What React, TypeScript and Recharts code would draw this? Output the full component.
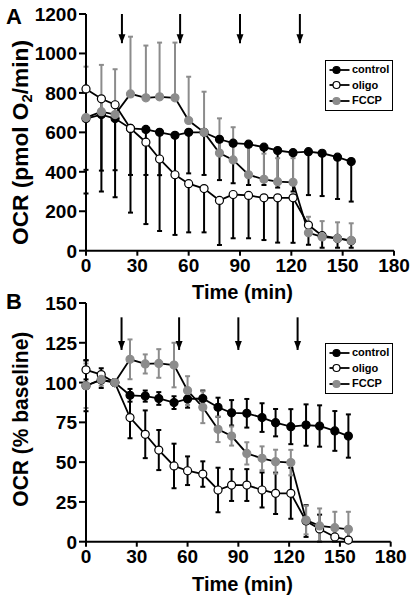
import React from 'react';
import {
  LineChart,
  Line,
  XAxis,
  YAxis,
  ErrorBar,
  Legend,
  Label,
  ReferenceLine,
  ReferenceDot,
} from 'recharts';

const times = [0, 9, 17, 26, 35, 43, 52, 60, 69, 78, 86, 95, 104, 112, 121, 130, 138, 147, 155];
const timeTicks = [0, 30, 60, 90, 120, 150, 180];
const injectionTimes = [21, 55, 90, 125];

// panel A: OCR in pmol O2/min (error bars drawn one-sided, as in the figure)
const ocrTicks = [0, 200, 400, 600, 800, 1000, 1200];
const controlA = [670, 690, 670, 620, 615, 600, 585, 600, 600, 565, 545, 540, 525, 508, 497, 502, 494, 474, 452];
const controlAErr = [380, 284, 262, 236, 231, 217, 200, 208, 216, 207, 203, 207, 192, 188, 197, 220, 217, 212, 203];
const oligoA = [820, 770, 740, 620, 550, 465, 385, 340, 315, 255, 285, 280, 268, 268, 268, 130, 76, 62, 50];
const oligoAErr = [410, 470, 469, 427, 415, 365, 305, 247, 222, 226, 222, 217, 214, 227, 228, 100, 61, 47, 35];
const fccpA = [675, 705, 690, 795, 775, 780, 775, 660, 600, 495, 460, 385, 362, 350, 347, 91, 70, 62, 52];
const fccpAErr = [258, 237, 230, 290, 265, 275, 280, 222, 206, 176, 166, 142, 130, 119, 122, 81, 80, 82, 87];

// panel B: OCR as % of baseline
const pctTicks = [0, 25, 50, 75, 100, 125, 150];
const controlB = [98, 101.6, 100, 92, 91.5, 90, 87.4, 89.7, 90, 84.5, 81, 80.7, 78, 74.8, 72.3, 73.3, 72.7, 69.6, 66.4];
const controlBErr = [16, 5, 0, 4, 3.5, 4, 4, 5.5, 5, 6, 8, 9, 9, 8.6, 11, 13, 13, 12.5, 13.6];
const oligoB = [108, 105, 100, 78, 67.5, 57.6, 47.6, 44.6, 42.5, 32.5, 35.6, 35.6, 32.5, 30.4, 30.4, 13, 8, 3, 1];
const oligoBErr = [6, 4, 0, 13, 15, 12.6, 14, 9, 8, 14, 10, 10, 11, 13, 16, 10, 9, 7, 6];
const fccpB = [98, 102, 100, 114.6, 111.7, 112, 111, 95, 84.5, 70.6, 66.4, 55.5, 52.4, 50.3, 49.7, 13.6, 9.9, 8.8, 7.8];
const fccpBErr = [14, 4, 0, 12.5, 6, 9, 14, 9, 10, 8, 6, 7, 7.5, 7.5, 8, 9, 11, 10, 11];

const FONT = '"Liberation Sans", Arial, Helvetica, sans-serif';
const GREY = '#8c8c8c';

const seriesStyle = [
  { key: 'control', label: 'control', fill: '#000', stroke: '#000', bar: '#000' },
  { key: 'oligo', label: 'oligo', fill: '#fff', stroke: '#000', bar: '#000' },
  { key: 'fccp', label: 'FCCP', fill: GREY, stroke: GREY, bar: GREY },
];

const rowsA = times.map((t, i) => ({
  t,
  control: controlA[i],
  controlErr: [controlAErr[i], 0],
  oligo: oligoA[i],
  oligoErr: [oligoAErr[i], 0],
  fccp: fccpA[i],
  fccpErr: [0, fccpAErr[i]],
}));

// symmetric SD, clipped at the x axis
const sd = (v: number, e: number) => [Math.min(e, v), e];
const rowsB = times.map((t, i) => ({
  t,
  control: controlB[i],
  controlErr: sd(controlB[i], controlBErr[i]),
  oligo: oligoB[i],
  oligoErr: sd(oligoB[i], oligoBErr[i]),
  fccp: fccpB[i],
  fccpErr: sd(fccpB[i], fccpBErr[i]),
}));

const XTick = ({ x, y, payload }: any) => (
  <text x={x} y={y + 15.5} textAnchor="middle" fontFamily={FONT} fontWeight={700} fontSize={19} fill="#000">
    {payload.value}
  </text>
);

const YTick = ({ x, y, payload }: any) => (
  <text x={x} y={y + 7} textAnchor="end" fontFamily={FONT} fontWeight={700} fontSize={19} fill="#000">
    {payload.value}
  </text>
);

const LegendBox = () => (
  <div
    style={{
      border: '1.5px solid #000',
      background: '#fff',
      width: 66,
      padding: '1px 0',
      fontFamily: FONT,
      fontWeight: 700,
      fontSize: 11,
      lineHeight: '15px',
    }}
  >
    {seriesStyle.map(s => (
      <div key={s.key} style={{ display: 'flex', alignItems: 'center', height: 15.5 }}>
        <svg width={26} height={10} style={{ display: 'block' }}>
          <line x1={3.5} x2={23.5} y1={5} y2={5} stroke="#000" strokeWidth={1.8} />
          <circle cx={10.5} cy={5} r={3.5} fill={s.fill} stroke={s.stroke} strokeWidth={1.2} />
        </svg>
        <span>{s.label}</span>
      </div>
    ))}
  </div>
);

const arrowHead = (p: any) => (
  <path d={`M${p.cx - 3.5},${p.cy - 9}L${p.cx + 3.5},${p.cy - 9}L${p.cx},${p.cy}Z`} fill="#000" />
);

type PanelProps = {
  top: number;
  height: number;
  margin: { top: number; right: number; left: number; bottom: number };
  xAxisHeight: number;
  rows: any[];
  yMax: number;
  yTicks: number[];
  arrowTop: number;
  arrowTip: number;
  letter: string;
  letterY: number;
  yTitle: React.ReactNode;
  yTitleLength: number;
  yTitleCy: number;
  xTitleY: number;
  legendTop: number;
};

function Panel(p: PanelProps) {
  return (
    <div style={{ position: 'absolute', left: 0, top: p.top }}>
      <LineChart width={414} height={p.height} data={p.rows} margin={p.margin}>
        <XAxis
          dataKey="t"
          type="number"
          domain={[0, 180]}
          ticks={timeTicks}
          interval={0}
          height={p.xAxisHeight}
          axisLine={{ stroke: '#000', strokeWidth: 2 }}
          tickLine={{ stroke: '#000', strokeWidth: 2 }}
          tickSize={5}
          tickMargin={1}
          tick={XTick}
        >
          <Label
            content={() => (
              <text
                x={242.5}
                y={p.xTitleY}
                textAnchor="middle"
                fontFamily={FONT}
                fontWeight={700}
                fontSize={20}
                fill="#000"
                textLength={101}
                lengthAdjust="spacingAndGlyphs"
              >
                Time (min)
              </text>
            )}
          />
        </XAxis>
        <YAxis
          type="number"
          domain={[0, p.yMax]}
          ticks={p.yTicks}
          interval={0}
          width={86}
          axisLine={{ stroke: '#000', strokeWidth: 2 }}
          tickLine={{ stroke: '#000', strokeWidth: 2 }}
          tickSize={7}
          tickMargin={2}
          tick={YTick}
        >
          <Label
            content={() => (
              <g fontFamily={FONT} fontWeight={700} fill="#000">
                <text x={6} y={p.letterY} fontSize={22}>
                  {p.letter}
                </text>
                <text
                  transform={`translate(28, ${p.yTitleCy}) rotate(-90)`}
                  textAnchor="middle"
                  fontSize={21.5}
                  textLength={p.yTitleLength}
                  lengthAdjust="spacingAndGlyphs"
                >
                  {p.yTitle}
                </text>
              </g>
            )}
          />
        </YAxis>

        {injectionTimes.map(t => (
          <ReferenceLine
            key={`line-${t}`}
            segment={[
              { x: t, y: p.arrowTop },
              { x: t, y: p.arrowTip },
            ]}
            stroke="#000"
            strokeWidth={2}
          />
        ))}
        {injectionTimes.map(t => (
          <ReferenceDot key={`head-${t}`} x={t} y={p.arrowTip} r={4} shape={arrowHead} />
        ))}

        {seriesStyle.map(s => (
          <Line
            key={s.key}
            dataKey={s.key}
            name={s.label}
            type="linear"
            stroke="#000"
            strokeWidth={1.8}
            dot={{ r: 4, fill: s.fill, stroke: s.stroke, strokeWidth: 1.2 }}
            activeDot={false}
            isAnimationActive={false}
          >
            <ErrorBar
              dataKey={`${s.key}Err`}
              direction="y"
              width={2.5}
              stroke={s.bar}
              strokeWidth={2}
              isAnimationActive={false}
            />
          </Line>
        ))}

        <Legend
          layout="vertical"
          align="center"
          verticalAlign="middle"
          content={() => <LegendBox />}
          wrapperStyle={{ left: 325, top: p.legendTop, width: 69, height: 'auto' }}
        />
      </LineChart>
    </div>
  );
}

export default function App() {
  return (
    <div style={{ position: 'absolute', left: 0, top: 0, width: 414, height: 601, background: '#fff' }}>
      <Panel
        top={0}
        height={305}
        margin={{ top: 14, right: 20, left: 0, bottom: 0 }}
        xAxisHeight={54.3}
        rows={rowsA}
        yMax={1200}
        yTicks={ocrTicks}
        arrowTop={1200}
        arrowTip={1052}
        letter="A"
        letterY={23.5}
        yTitle={
          <>
            <tspan>OCR (pmol O</tspan>
            <tspan fontSize={14} dy={4}>2</tspan>
            <tspan dy={-4}>/min)</tspan>
          </>
        }
        yTitleLength={205}
        yTitleCy={142.5}
        xTitleY={298.5}
        legendTop={60}
      />
      <Panel
        top={290}
        height={311}
        margin={{ top: 13, right: 23.3, left: 0, bottom: 0 }}
        xAxisHeight={59.3}
        rows={rowsB}
        yMax={150}
        yTicks={pctTicks}
        arrowTop={141}
        arrowTip={120.5}
        letter="B"
        letterY={19}
        yTitle="OCR (% baseline)"
        yTitleLength={175}
        yTitleCy={129.2}
        xTitleY={300.7}
        legendTop={53}
      />
    </div>
  );
}
